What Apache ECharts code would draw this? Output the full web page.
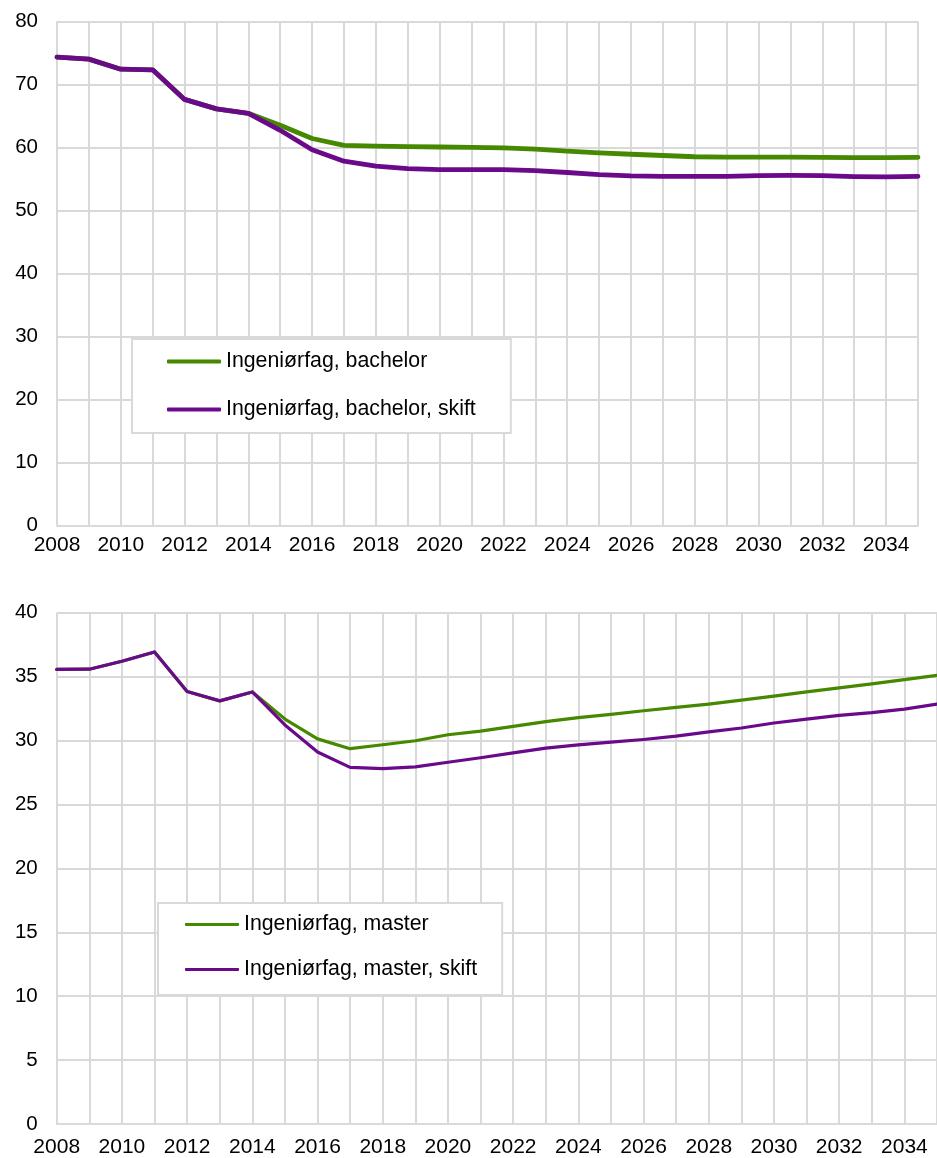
<!DOCTYPE html>
<html>
<head>
<meta charset="utf-8">
<script src="https://cdn.jsdelivr.net/npm/echarts@6/dist/echarts.min.js"></script>
<style>
  html, body { margin: 0; padding: 0; background: #fff; }
  #chart { width: 937px; height: 1158px; }
</style>
</head>
<body>
<div id="chart"></div>
<script>
// Years on the horizontal axis (shared by both panels)
const years = ['2008','2009','2010','2011','2012','2013','2014','2015','2016','2017',
  '2018','2019','2020','2021','2022','2023','2024','2025','2026','2027',
  '2028','2029','2030','2031','2032','2033','2034','2035'];

// Upper panel: engineering, bachelor
const bachelor = [74.3, 74.0, 72.4, 72.3, 67.6, 66.1, 65.4, 63.5, 61.4, 60.3,
  60.2, 60.1, 60.05, 60.0, 59.9, 59.7, 59.4, 59.1, 58.9, 58.7,
  58.5, 58.45, 58.45, 58.45, 58.4, 58.35, 58.35, 58.4];
const bachelorSkift = [74.3, 74.0, 72.4, 72.3, 67.6, 66.1, 65.4, 62.7, 59.6, 57.8,
  57.0, 56.6, 56.45, 56.45, 56.45, 56.3, 56.0, 55.65, 55.45, 55.4,
  55.4, 55.4, 55.5, 55.55, 55.5, 55.35, 55.3, 55.4];

// Lower panel: engineering, master
const master = [35.56, 35.58, 36.2, 36.93, 33.83, 33.1, 33.8, 31.68, 30.13, 29.36,
  29.67, 29.98, 30.45, 30.73, 31.11, 31.48, 31.79, 32.05, 32.33, 32.59,
  32.85, 33.16, 33.47, 33.8, 34.12, 34.43, 34.77, 35.1];
const masterSkift = [35.56, 35.58, 36.2, 36.93, 33.83, 33.1, 33.8, 31.22, 29.1, 27.9,
  27.8, 27.94, 28.3, 28.65, 29.04, 29.4, 29.66, 29.87, 30.08, 30.34,
  30.67, 30.98, 31.37, 31.68, 31.97, 32.18, 32.46, 32.85];

const names = {
  bachelor: 'Ingeniørfag, bachelor',
  bachelorSkift: 'Ingeniørfag, bachelor, skift',
  master: 'Ingeniørfag, master',
  masterSkift: 'Ingeniørfag, master, skift'
};

const GREEN = '#468800';
const PURPLE = '#6a0a8a';
const GRIDC = '#d9d9d9';
const FONT = '"Liberation Sans", Arial, sans-serif';

function xAxis(gridIndex, margin) {
  return {
    type: 'category', gridIndex, data: years, boundaryGap: false,
    axisLine: { show: true, lineStyle: { color: GRIDC, width: 2 } },
    axisTick: { show: false },
    axisLabel: { interval: 1, color: '#000', fontSize: 21, fontFamily: FONT, margin },
    splitLine: { show: true, interval: 0, lineStyle: { color: GRIDC, width: 2 } }
  };
}
function yAxis(gridIndex, max, interval) {
  return {
    type: 'value', gridIndex, min: 0, max, interval,
    axisLine: { show: false }, axisTick: { show: false },
    axisLabel: { color: '#000', fontSize: 20.5, fontFamily: FONT, margin: 19 },
    splitLine: { show: true, lineStyle: { color: GRIDC, width: 2 } }
  };
}
function line(name, data, idx, color, width) {
  return {
    name, type: 'line', data, xAxisIndex: idx, yAxisIndex: idx,
    showSymbol: false, symbol: 'none', animation: false,
    lineStyle: { color, width, cap: 'round', join: 'round' },
    itemStyle: { color }
  };
}

const chart = echarts.init(document.getElementById('chart'), null, { renderer: 'canvas' });
chart.setOption({
  animation: false,
  backgroundColor: '#fff',
  grid: [
    { left: 57, top: 21.3, width: 861, height: 504 },
    { left: 56.7, top: 612.7, width: 885.3, height: 517 }
  ],
  xAxis: [xAxis(0, 9), xAxis(1, 13)],
  yAxis: [yAxis(0, 80, 10), yAxis(1, 40, 5)],
  legend: [
    {
      data: [names.bachelor, names.bachelorSkift],
      orient: 'vertical', left: 132, top: 339,
      padding: [12, 35, 13, 35], itemGap: 27,
      itemWidth: 54, itemHeight: 4, icon: 'roundRect',
      backgroundColor: '#fff', borderColor: GRIDC, borderWidth: 2,
      textStyle: { color: '#000', fontSize: 21.3, fontFamily: FONT },
      selectedMode: false
    },
    {
      data: [names.master, names.masterSkift],
      orient: 'vertical', left: 158, top: 903,
      padding: [11, 25, 15, 27], itemGap: 24,
      itemWidth: 54, itemHeight: 3, icon: 'roundRect',
      backgroundColor: '#fff', borderColor: GRIDC, borderWidth: 2,
      textStyle: { color: '#000', fontSize: 21.3, fontFamily: FONT },
      selectedMode: false
    }
  ],
  series: [
    line(names.bachelor, bachelor, 0, GREEN, 4.8),
    line(names.bachelorSkift, bachelorSkift, 0, PURPLE, 4.8),
    line(names.master, master, 1, GREEN, 3.2),
    line(names.masterSkift, masterSkift, 1, PURPLE, 3.2)
  ]
});
</script>
</body>
</html>
